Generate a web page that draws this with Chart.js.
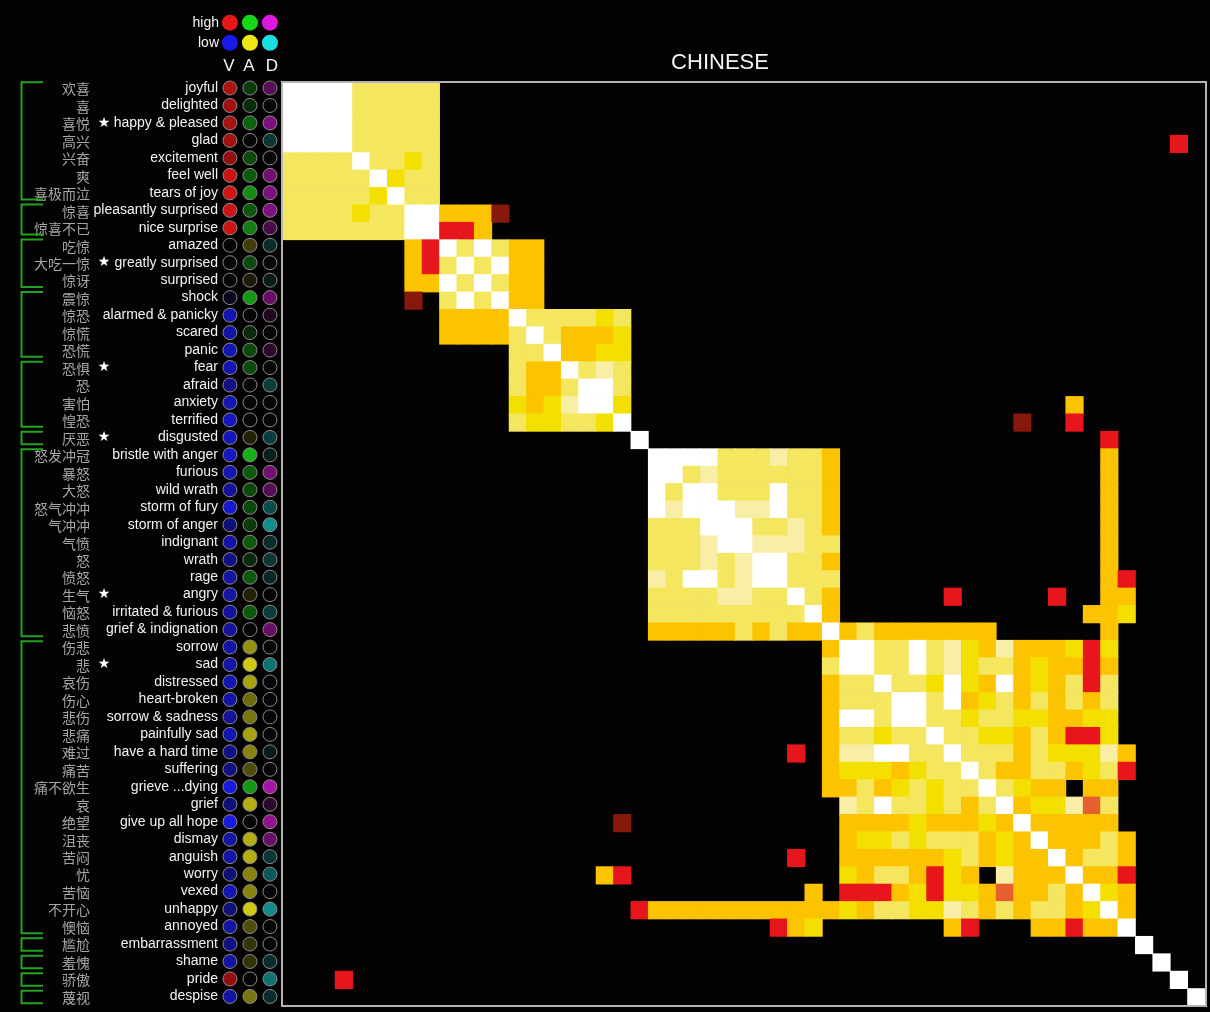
<!DOCTYPE html>
<html>
<head>
<meta charset="utf-8">
<script src="https://cdn.jsdelivr.net/npm/chart.js@4/dist/chart.umd.min.js"></script>
<style>
  html, body { margin: 0; padding: 0; background: #050203; }
  #wrap { position: absolute; left: 0; top: 0; width: 1210px; height: 1012px; }
</style>
</head>
<body>
<div id="wrap"><canvas id="chart" width="1210" height="1012"></canvas></div>
<script>
// Emotion terms (English gloss and Chinese term), top to bottom
const emotionsEn = ["joyful","delighted","happy & pleased","glad","excitement","feel well","tears of joy",
  "pleasantly surprised","nice surprise","amazed","greatly surprised","surprised","shock",
  "alarmed & panicky","scared","panic","fear","afraid","anxiety","terrified","disgusted",
  "bristle with anger","furious","wild wrath","storm of fury","storm of anger","indignant","wrath",
  "rage","angry","irritated & furious","grief & indignation","sorrow","sad","distressed",
  "heart-broken","sorrow & sadness","painfully sad","have a hard time","suffering","grieve ...dying",
  "grief","give up all hope","dismay","anguish","worry","vexed","unhappy","annoyed",
  "embarrassment","shame","pride","despise"];
const emotionsZh = ["欢喜","喜","喜悦","高兴","兴奋","爽","喜极而泣","惊喜","惊喜不已","吃惊","大吃一惊",
  "惊讶","震惊","惊恐","惊慌","恐慌","恐惧","恐","害怕","惶恐","厌恶","怒发冲冠","暴怒","大怒",
  "怒气冲冲","气冲冲","气愤","怒","愤怒","生气","恼怒","悲愤","伤悲","悲","哀伤","伤心","悲伤",
  "悲痛","难过","痛苦","痛不欲生","哀","绝望","沮丧","苦闷","忧","苦恼","不开心","懊恼","尴尬",
  "羞愧","骄傲","蔑视"];
// Terms marked with a star
const starred = [2, 10, 16, 20, 29, 33];

// Valence / arousal / dominance ratings (-1 low .. +1 high)
const valence = [0.75,0.7,0.72,0.7,0.63,0.88,0.9,0.88,0.88,0,0,0,-0.1,-0.75,-0.7,-0.75,-0.75,-0.55,
  -0.75,-0.8,-0.8,-0.82,-0.75,-0.65,-0.88,-0.5,-0.7,-0.55,-0.7,-0.7,-0.65,-0.65,-0.7,-0.7,-0.75,
  -0.7,-0.65,-0.75,-0.55,-0.55,-0.95,-0.5,-0.95,-0.7,-0.7,-0.5,-0.75,-0.5,-0.7,-0.55,-0.7,0.63,-0.7];
const arousal = [0.25,0.18,0.45,0,0.32,0.4,0.65,0.4,0.58,-0.25,0.32,-0.1,0.7,0,0.18,0.32,0.32,0,0,0,
  -0.12,0.82,0.4,0.32,0.32,0.25,0.4,0.18,0.4,-0.12,0.4,0,-0.62,-0.88,-0.7,-0.45,-0.5,-0.7,-0.56,
  -0.32,0.7,-0.75,0,-0.75,-0.75,-0.56,-0.56,-0.88,-0.32,-0.2,-0.2,0,-0.5];
const dominance = [0.38,0,0.55,-0.22,0,0.5,0.56,0.56,0.3,-0.18,0,-0.1,0.45,0.12,0,0.18,0,-0.25,0,0,
  -0.25,-0.12,0.5,0.38,-0.32,-0.62,-0.18,-0.22,-0.15,0,-0.25,0.45,0,-0.5,0,0,0,0,-0.1,0,0.75,0.18,
  0.65,0.45,-0.22,-0.38,0,-0.62,0,0,-0.18,-0.5,-0.18];

// Bracketed clusters of terms (first row, last row)
const clusters = [[0,6],[7,8],[9,11],[12,15],[16,19],[20,20],[21,31],[32,48],[49,49],[50,50],[51,51],[52,52]];

// Similarity level per pair, lower triangle (column <= row).
// Each row lists "startColumn:levels" runs; columns not listed are 0.
// 0 none, 1 dark red, 2 red, 3 orange-red, 4 orange, 5 yellow, 6 light yellow, 7 cream, 8 white
const similarity = [
  "0:8", "0:88", "0:888", "0:8888", "0:66668", "0:666668", "0:6666658", "0:66665668", "0:666666688",
  "7:428", "7:4268", "7:44868", "7:106868", "9:44448", "9:444468",
  "13:668", "13:6448", "13:64468", "13:545788", "13:6556658",
  "20:8",
  "21:8", "21:88", "21:868", "21:8788", "21:66688", "21:666788", "21:6667678", "21:76886788",
  "21:666677668", "21:6666666668", "21:44444646448",
  "31:48", "31:688", "31:4668", "31:46668", "31:488688", "31:4665668",
  "29:2 31:47788668",
  "31:455545668",
  "31:4464565668",
  "32:7686656468",
  "19:1 32:44445444548",
  "32:455656664548",
  "29:2 32:4444445645448",
  "18:42 32:54664254074448",
  "30:4 32:222452554344648",
  "20:244444444444 32:5466557646466458",
  "28:245 38:42 43:442448",
  "49:8", "50:8", "3:2 51:8", "52:8"
];

const levelColors = ["#050203","#86180c","#e6161c","#e5602c","#fcc400","#f3e000","#f5e660","#f8eea6","#ffffff"];

// Expand the triangle into a level lookup
const n = emotionsEn.length;
const lower = similarity.map((row, r) => {
  const arr = new Array(r + 1).fill(0);
  row.split(" ").forEach(seg => {
    const [start, levels] = seg.split(":");
    for (let k = 0; k < levels.length; k++) arr[+start + k] = +levels[k];
  });
  return arr;
});
const levelAt = (r, c) => (c <= r ? lower[r][c] : lower[c][r]) || 0;

const cellPoints = [];
for (let r = 0; r < n; r++) {
  for (let c = 0; c < n; c++) {
    const lv = levelAt(r, c);
    if (lv > 0) cellPoints.push({ x: c, y: r, level: lv });
  }
}

// Page geometry (pixels)
const W = 1210, H = 1012;
const plot = { left: 283, top: 83, right: 1205, bottom: 1006 };
const cellW = (plot.right - plot.left) / n, cellH = (plot.bottom - plot.top) / n;
const labelTop = 88, labelStep = 17.47;   // row pitch of the label panel

// V / A / D dot columns, placed left of the matrix on the shared x scale
const vadX = [-3.55, -2.4, -1.25];
const highRGB = [[232, 22, 22], [24, 214, 24], [222, 24, 222]];
const lowRGB  = [[26, 26, 236], [236, 230, 20], [24, 224, 224]];
const ratingSets = [valence, arousal, dominance];
function ratingColor(v, k) {
  const base = v >= 0 ? highRGB[k] : lowRGB[k];
  const a = Math.min(1, Math.abs(v));
  return "rgb(" + base.map(x => Math.round(6 + (x - 6) * a)).join(",") + ")";
}
const vadPoints = [];
emotionsEn.forEach((_, i) => ratingSets.forEach((set, k) => vadPoints.push({ x: vadX[k], y: i, v: set[i], k })));

const keyRows = [-3.74, -2.59];
const keyPoints = [];
keyRows.forEach((yv, hiLo) => [0, 1, 2].forEach(k => {
  const rgb = hiLo === 0 ? highRGB[k] : lowRGB[k];
  keyPoints.push({ x: vadX[k], y: yv, color: "rgb(" + rgb.join(",") + ")" });
}));

const FONT = "'Liberation Sans', Arial, Helvetica, sans-serif";

const backdrop = {
  id: "backdrop",
  beforeDraw(chart) {
    const { ctx, width, height } = chart;
    ctx.save();
    ctx.fillStyle = "#050203";
    ctx.fillRect(0, 0, width, height);
    ctx.restore();
  }
};

const decorations = {
  id: "decorations",
  afterDraw(chart) {
    const { ctx } = chart;
    const xs = chart.scales.x, ys = chart.scales.y, yl = chart.scales.yl;
    ctx.save();
    // frame around the matrix
    const fx0 = xs.getPixelForValue(-0.5), fx1 = xs.getPixelForValue(n - 0.5);
    const fy0 = ys.getPixelForValue(-0.5), fy1 = ys.getPixelForValue(n - 0.5);
    ctx.strokeStyle = "#b4b4b4";
    ctx.lineWidth = 2;
    ctx.strokeRect(fx0 - 1, fy0 - 1, fx1 - fx0 + 2, fy1 - fy0 + 1);

    // title
    ctx.fillStyle = "#f4f4f4";
    ctx.font = "22px " + FONT;
    ctx.textAlign = "center";
    ctx.textBaseline = "middle";
    ctx.fillText("CHINESE", 720, 63);

    // key labels
    ctx.font = "14px " + FONT;
    ctx.textAlign = "right";
    ctx.fillText("high", 219, yl.getPixelForValue(keyRows[0]));
    ctx.fillText("low", 219, yl.getPixelForValue(keyRows[1]));
    ctx.font = "17px " + FONT;
    ctx.textAlign = "center";
    ["V", "A", "D"].forEach((t, k) => ctx.fillText(t, xs.getPixelForValue(vadX[k]) + (k === 2 ? 2 : -1), 66));

    // English terms
    ctx.font = "14px " + FONT;
    ctx.fillStyle = "#f2f2f2";
    ctx.textAlign = "right";
    emotionsEn.forEach((t, i) => ctx.fillText(t, 218, yl.getPixelForValue(i)));

    // Chinese terms and stars
    ctx.font = "14px 'Noto Sans CJK SC', sans-serif";
    ctx.fillStyle = "#a6a6a6";
    emotionsZh.forEach((t, i) => ctx.fillText(t, 90, yl.getPixelForValue(i) + 1));
    ctx.fillStyle = "#ffffff";
    ctx.font = "14px 'DejaVu Sans', sans-serif";
    ctx.textAlign = "center";
    starred.forEach(i => ctx.fillText("★", 104, yl.getPixelForValue(i)));

    // cluster brackets
    ctx.strokeStyle = "#22a322";
    ctx.lineWidth = 2;
    clusters.forEach(([a, b]) => {
      const top = yl.getPixelForValue(a - 0.5) + 3;
      const bot = yl.getPixelForValue(b + 0.5) - 2;
      ctx.beginPath();
      ctx.moveTo(43, top); ctx.lineTo(21.5, top); ctx.lineTo(21.5, bot); ctx.lineTo(43, bot);
      ctx.stroke();
    });
    ctx.restore();
  }
};

// Width of one matrix cell in pixels
function cellSide(chart) {
  const xs = chart.scales && chart.scales.x;
  if (!xs || !isFinite(xs.getPixelForValue(1))) return 18;
  return Math.abs(xs.getPixelForValue(1) - xs.getPixelForValue(0)) + 0.8;
}

new Chart(document.getElementById("chart"), {
  type: "scatter",
  data: {
    datasets: [
      {
        label: "similarity",
        data: cellPoints,
        pointStyle: "rect",
        borderWidth: 0,
        pointRadius: ctx => cellSide(ctx.chart) / Math.SQRT2,
        backgroundColor: ctx => levelColors[ctx.raw ? ctx.raw.level : 0],
        order: 2
      },
      {
        label: "ratings",
        data: vadPoints,
        yAxisID: "yl",
        pointStyle: "circle",
        pointRadius: 7,
        borderWidth: 1,
        borderColor: "#8a8a8a",
        backgroundColor: ctx => ctx.raw ? ratingColor(ctx.raw.v, ctx.raw.k) : "#000",
        order: 1
      },
      {
        label: "key",
        data: keyPoints,
        yAxisID: "yl",
        pointStyle: "circle",
        pointRadius: 8,
        borderWidth: 0,
        backgroundColor: ctx => ctx.raw ? ctx.raw.color : "#000",
        order: 1
      }
    ]
  },
  options: {
    responsive: false,
    devicePixelRatio: 1,
    animation: false,
    events: [],
    layout: { autoPadding: false, padding: 0 },
    plugins: { legend: { display: false }, tooltip: { enabled: false }, title: { display: false } },
    scales: {
      x: {
        type: "linear", display: false,
        min: -0.5 - plot.left / cellW,
        max: n - 0.5 + (W - plot.right) / cellW
      },
      y: {
        type: "linear", display: false, reverse: true,
        min: -0.5 - plot.top / cellH,
        max: n - 0.5 + (H - plot.bottom) / cellH
      },
      yl: {
        type: "linear", display: false, reverse: true, position: "left",
        min: -labelTop / labelStep,
        max: -labelTop / labelStep + H / labelStep
      }
    }
  },
  plugins: [backdrop, decorations]
});
</script>
</body>
</html>
